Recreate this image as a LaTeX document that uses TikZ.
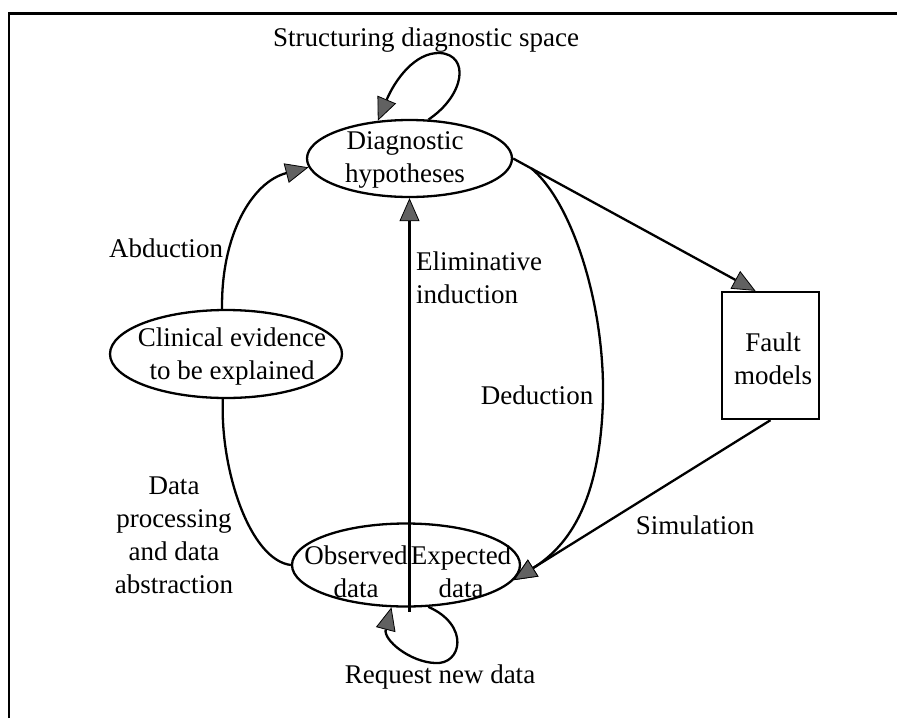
\documentclass[tikz,border=0pt]{standalone}
\usepackage{fontspec}
\setmainfont{Liberation Serif}
\usetikzlibrary{shapes.geometric,arrows.meta,calc}
\begin{document}
\begin{tikzpicture}[x=1pt,y=-1pt,
  ell/.style={ellipse,draw,line width=2.3pt,inner sep=0pt},
  txt/.style={align=center,inner sep=0pt,font=\fontsize{27}{33}\selectfont},
  ln/.style={line width=2.3pt},
  arr/.style={line width=2.3pt,-{Triangle[length=23pt,width=20pt,fill=black!62,line width=0.8pt]}}]
\useasboundingbox (0,0) rectangle (897,718);
% frame
\draw[line width=2.5pt] (9,718) -- (9,13.5) -- (897,13.5);
% nodes
\node[ell,minimum width=205,minimum height=77] (dh) at (409.5,158.5) {};
\node[txt] (dht) at (405,160) {Diagnostic\\hypotheses};
\node[ell,minimum width=232,minimum height=88] (ce) at (226,354) {};
\node[txt] (cet) at (232,357) {Clinical evidence\\to be explained};
\node[ell,minimum width=228,minimum height=83] (lo) at (406,565) {};
\node[txt] (obs) at (356,572) {Observed\\data};
\node[txt] (exp) at (461,572) {Expected\\data};
\node[draw,line width=2.3pt,minimum width=97,minimum height=127,inner sep=0pt] (fm) at (770.5,355.5) {};
\node[txt] (fmt) at (773,359) {Fault\\models};
% labels
\node[txt] (lstruct) at (426,40) {Structuring diagnostic space};
\node[txt] (labd) at (166,248) {Abduction};
\node[txt,align=left,anchor=west] (lelim) at (416,278) {Eliminative\\induction};
\node[txt] (lded) at (537,395) {Deduction};
\node[txt] (ldata) at (174,535) {Data\\processing\\and data\\abstraction};
\node[txt] (lsim) at (695,525) {Simulation};
\node[txt] (lreq) at (440,677) {Request new data};
% connectors
\coordinate (fmin) at ([xshift=-15pt]fm.north);
\coordinate (dstart) at ($(dh.east)!0.075!(fmin)$);
\draw[arr] (ce.95) .. controls (221,235) and (252,182) .. (dh.185);
\draw[ln] (ce.266) .. controls (220,470) and (250,560) .. (lo.west);
\draw[arr] ([yshift=-4pt]dh.south |- lo.south) -- (dh.south);
\draw[arr] (dstart) .. controls (570,200) and (605,300) .. (603,400)
  .. controls (600,500) and (570,545) .. (lo.352);
\draw[arr] (dh.east) -- (fmin);
\draw[arr] (fm.south) -- (lo.352);
\draw[arr] (dh.64) .. controls (465,95) and (470,55) .. (440,53)
  .. controls (415,52) and (395,80) .. (dh.130);
\draw[arr] (lo.298) .. controls (470,625) and (462,665) .. (435,663)
  .. controls (410,662) and (383,640) .. (lo.251);
\end{tikzpicture}
\end{document}
